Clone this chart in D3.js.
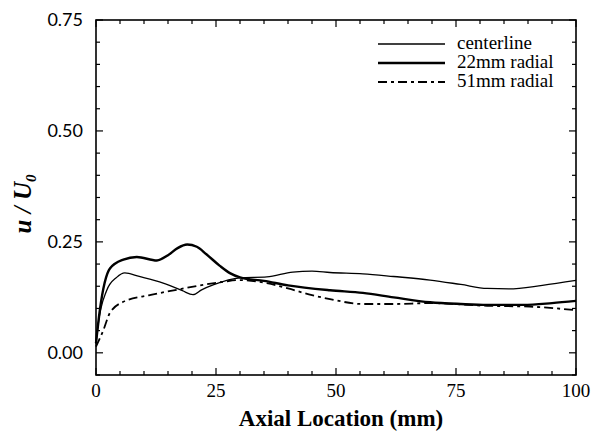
<!DOCTYPE html>
<html><head><meta charset="utf-8">
<script src="https://cdn.jsdelivr.net/npm/d3@7"></script>
<style>body{margin:0;background:#fff}</style>
</head><body>
<svg id="c" width="593" height="431"></svg>
<script>
const xTicks = [0, 25, 50, 75, 100];
const yTicks = [0.00, 0.25, 0.50, 0.75];
const seriesNames = ["centerline", "22mm radial", "51mm radial"];
const centerX = [0, 0.4, 2.2, 4.3, 6, 9, 14, 18, 20.2, 22, 24.4, 30, 35.6, 41, 45, 48.75, 55.6, 62, 69.6, 76, 81.5, 86, 93, 100];
const centerY = [0.02, 0.06, 0.14, 0.17, 0.18, 0.172, 0.157, 0.14, 0.131, 0.142, 0.153, 0.169, 0.171, 0.182, 0.184, 0.181, 0.178, 0.172, 0.164, 0.154, 0.145, 0.144, 0.152, 0.163];
const r22X = [0, 0.8, 2.9, 5.7, 8.5, 12.7, 15, 17, 19, 21, 23, 25.8, 28, 30, 35, 40, 48.75, 55.6, 62, 69.6, 76, 81.5, 89, 95, 100];
const r22Y = [0.022, 0.096, 0.19, 0.21, 0.216, 0.208, 0.22, 0.236, 0.244, 0.239, 0.222, 0.196, 0.179, 0.17, 0.162, 0.152, 0.141, 0.135, 0.125, 0.114, 0.11, 0.108, 0.108, 0.112, 0.117];
const r51X = [0, 1.5, 2.9, 5.7, 11.2, 16.8, 22.3, 26.5, 30, 35.6, 40, 45, 48.75, 55.6, 62, 69.6, 81.5, 90.4, 100];
const r51Y = [0.014, 0.05, 0.09, 0.115, 0.13, 0.142, 0.153, 0.16, 0.164, 0.157, 0.145, 0.13, 0.121, 0.11, 0.11, 0.112, 0.106, 0.104, 0.096];

const svg = d3.select("#c");
const L = 96, R = 576, T = 20, B = 375;
const x = d3.scaleLinear().domain([0, 100]).range([L, R]);
const y = d3.scaleLinear().domain([-0.05, 0.75]).range([B, T]);

svg.append("rect").attr("x", L).attr("y", T).attr("width", R - L).attr("height", B - T)
  .attr("fill", "none").attr("stroke", "#000").attr("stroke-width", 1.6);

const xMinor = d3.range(0, 101, 5);
const yMinor = d3.range(-0.05, 0.751, 0.05).map(v => +v.toFixed(2));
const tk = svg.append("g").attr("stroke", "#000").attr("stroke-width", 1.2);
xMinor.forEach(v => {
  const len = xTicks.includes(v) ? 7 : 4;
  tk.append("line").attr("x1", x(v)).attr("x2", x(v)).attr("y1", B).attr("y2", B - len);
  tk.append("line").attr("x1", x(v)).attr("x2", x(v)).attr("y1", T).attr("y2", T + len);
});
yMinor.forEach(v => {
  const len = yTicks.some(t => Math.abs(t - v) < 1e-6) ? 7 : 4;
  tk.append("line").attr("y1", y(v)).attr("y2", y(v)).attr("x1", L).attr("x2", L + len);
  tk.append("line").attr("y1", y(v)).attr("y2", y(v)).attr("x1", R).attr("x2", R - len);
});

svg.append("g").selectAll("text").data(xTicks).join("text")
  .attr("x", d => x(d)).attr("y", 397).attr("text-anchor", "middle")
  .attr("font-family", "Liberation Serif, serif").attr("font-size", 19).text(d => d);
svg.append("g").selectAll("text").data(yTicks).join("text")
  .attr("x", 83).attr("y", d => y(d) + 6).attr("text-anchor", "end")
  .attr("font-family", "Lato, sans-serif").attr("font-size", 18).text(d => d3.format(".2f")(d));

svg.append("text").attr("x", (L + R) / 2 + 5).attr("y", 426).attr("text-anchor", "middle")
  .attr("font-family", "Liberation Serif, serif").attr("font-size", 23).attr("font-weight", "bold")
  .text("Axial Location (mm)");
const yt = svg.append("text").attr("transform", "translate(31,204) rotate(-90)").attr("text-anchor", "middle")
  .attr("font-family", "Liberation Serif, serif").attr("font-size", 25).attr("font-weight", "bold").attr("font-style", "italic");
yt.append("tspan").text("u / U");
yt.append("tspan").attr("font-size", 15).attr("dy", 5).text("0");

const line = d3.line().x(d => x(d[0])).y(d => y(d[1])).curve(d3.curveMonotoneX);
const data = [
  {name: seriesNames[0], pts: d3.zip(centerX, centerY), w: 1.3, dash: null},
  {name: seriesNames[1], pts: d3.zip(r22X, r22Y), w: 2.4, dash: null},
  {name: seriesNames[2], pts: d3.zip(r51X, r51Y), w: 1.8, dash: "9,4,3,4"}
];
data.forEach(s => {
  svg.append("path").attr("d", line(s.pts)).attr("fill", "none").attr("stroke", "#000")
    .attr("stroke-width", s.w).attr("stroke-dasharray", s.dash);
});

const lg = svg.append("g");
const rowsY = [44, 63, 82];
data.forEach((s, i) => {
  lg.append("line").attr("x1", 378).attr("x2", 445).attr("y1", rowsY[i]).attr("y2", rowsY[i])
    .attr("stroke", "#000").attr("stroke-width", s.w).attr("stroke-dasharray", s.dash);
  lg.append("text").attr("x", 457).attr("y", rowsY[i] + 5).attr("font-family", "Liberation Serif, serif")
    .attr("font-size", 19).text(s.name);
});
</script>
</body></html>
